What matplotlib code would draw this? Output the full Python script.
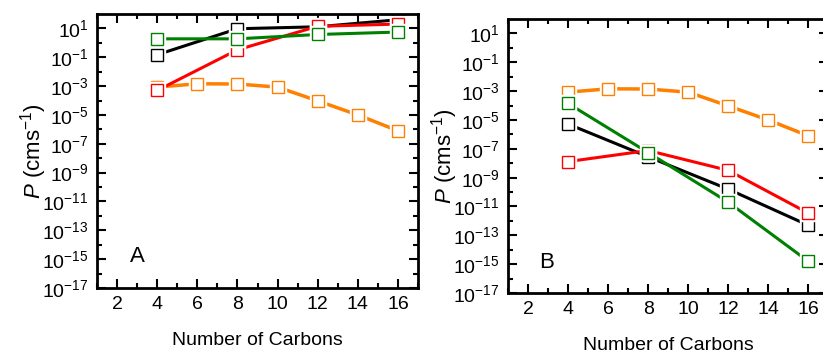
import numpy as np
import matplotlib
matplotlib.use('Agg')
import matplotlib.pyplot as plt
import matplotlib.ticker as ticker

plt.rcParams.update({'font.family': 'Liberation Sans',
                     'mathtext.fontset': 'custom',
                     'mathtext.rm': 'Liberation Sans',
                     'mathtext.it': 'Liberation Sans:italic',
                     'font.size': 14})

# data
carbons = [4, 8, 12, 16]
carbons_all = [4, 6, 8, 10, 12, 14, 16]
orange = [8.5e-4, 1.45e-3, 1.4e-3, 8.5e-4, 9.5e-5, 1.0e-5, 8e-7]

a_black = [1.5e-1, 9.5, 1.3e1, 4.0e1]
a_red = [5e-4, 3.3e-1, 1.4e1, 2.0e1]
a_green = [1.9, 1.9, 3.8, 5.6]

b_black = [5.2e-6, 2.8e-8, 1.6e-10, 5e-13]
b_red = [1.3e-8, 7.6e-8, 3.2e-9, 3.5e-12]
b_green = [1.4e-4, 5.5e-8, 2.0e-11, 1.6e-15]

major_exp = [1, -1, -3, -5, -7, -9, -11, -13, -15, -17]
minor_exp = [0, -2, -4, -6, -8, -10, -12, -14, -16]
xticks = [2, 4, 6, 8, 10, 12, 14, 16]

ORANGE = '#ff8000'
RED = '#ff0000'
GREEN = '#008000'
BLACK = 'black'


def draw(ax, x, y, color, lw=2.2):
    ax.plot(x, y, '-', color=color, lw=lw, solid_capstyle='butt', zorder=2)
    ax.plot(x, y, 's', ms=12, mfc='white', mec='white', zorder=2)
    ax.plot(x, y, 's', ms=8.3, mfc='white', mec=color, mew=1.0, zorder=2)


def style(ax, label, labelpos):
    ax.set_yscale('log')
    ax.set_xlim(1, 17)
    ax.set_ylim(1e-17, 1e2)
    ax.set_yticks([10.0 ** e for e in major_exp])
    ax.set_yticklabels([r'$\mathregular{10^{%d}}$' % e for e in major_exp])
    ax.set_yticks([10.0 ** e for e in minor_exp], minor=True)
    ax.yaxis.set_minor_formatter(ticker.NullFormatter())
    ax.set_xticks(xticks)
    ax.set_xticks(np.arange(1, 18, 2), minor=True)
    ax.tick_params(which='both', direction='in', top=True, right=True, width=1.5)
    ax.tick_params(which='major', length=6.5, pad=6)
    ax.tick_params(which='minor', length=3.5)
    for s in ax.spines.values():
        s.set_linewidth(2)
    ax.set_xlabel('Number of Carbons', fontsize=14)
    ax.set_ylabel(r'$\mathit{P}$ (cms$^{\mathregular{-1}}$)', fontsize=16)
    ax.yaxis.set_label_coords(-0.15, 0.5)
    ax.xaxis.set_label_coords(0.5, -0.16)
    ax.text(labelpos[0], labelpos[1], label, transform=ax.transAxes, fontsize=16,
            ha='center', va='center')


fig = plt.figure(figsize=(8.23, 3.51), dpi=100)
ax1 = fig.add_axes([0.1179, 0.1795, 0.390, 0.7806])
ax2 = fig.add_axes([0.6173, 0.1652, 0.389, 0.7806])

draw(ax1, carbons_all, orange, ORANGE, 2.5)
draw(ax1, carbons, a_black, BLACK)
draw(ax1, carbons, a_red, RED)
draw(ax1, carbons, a_green, GREEN)
style(ax1, 'A', (0.125, 0.115))

draw(ax2, carbons_all, orange, ORANGE, 2.5)
draw(ax2, carbons, b_black, BLACK)
draw(ax2, carbons, b_red, RED)
draw(ax2, carbons, b_green, GREEN)
style(ax2, 'B', (0.12, 0.11))

fig.savefig('out.png', dpi=100)
